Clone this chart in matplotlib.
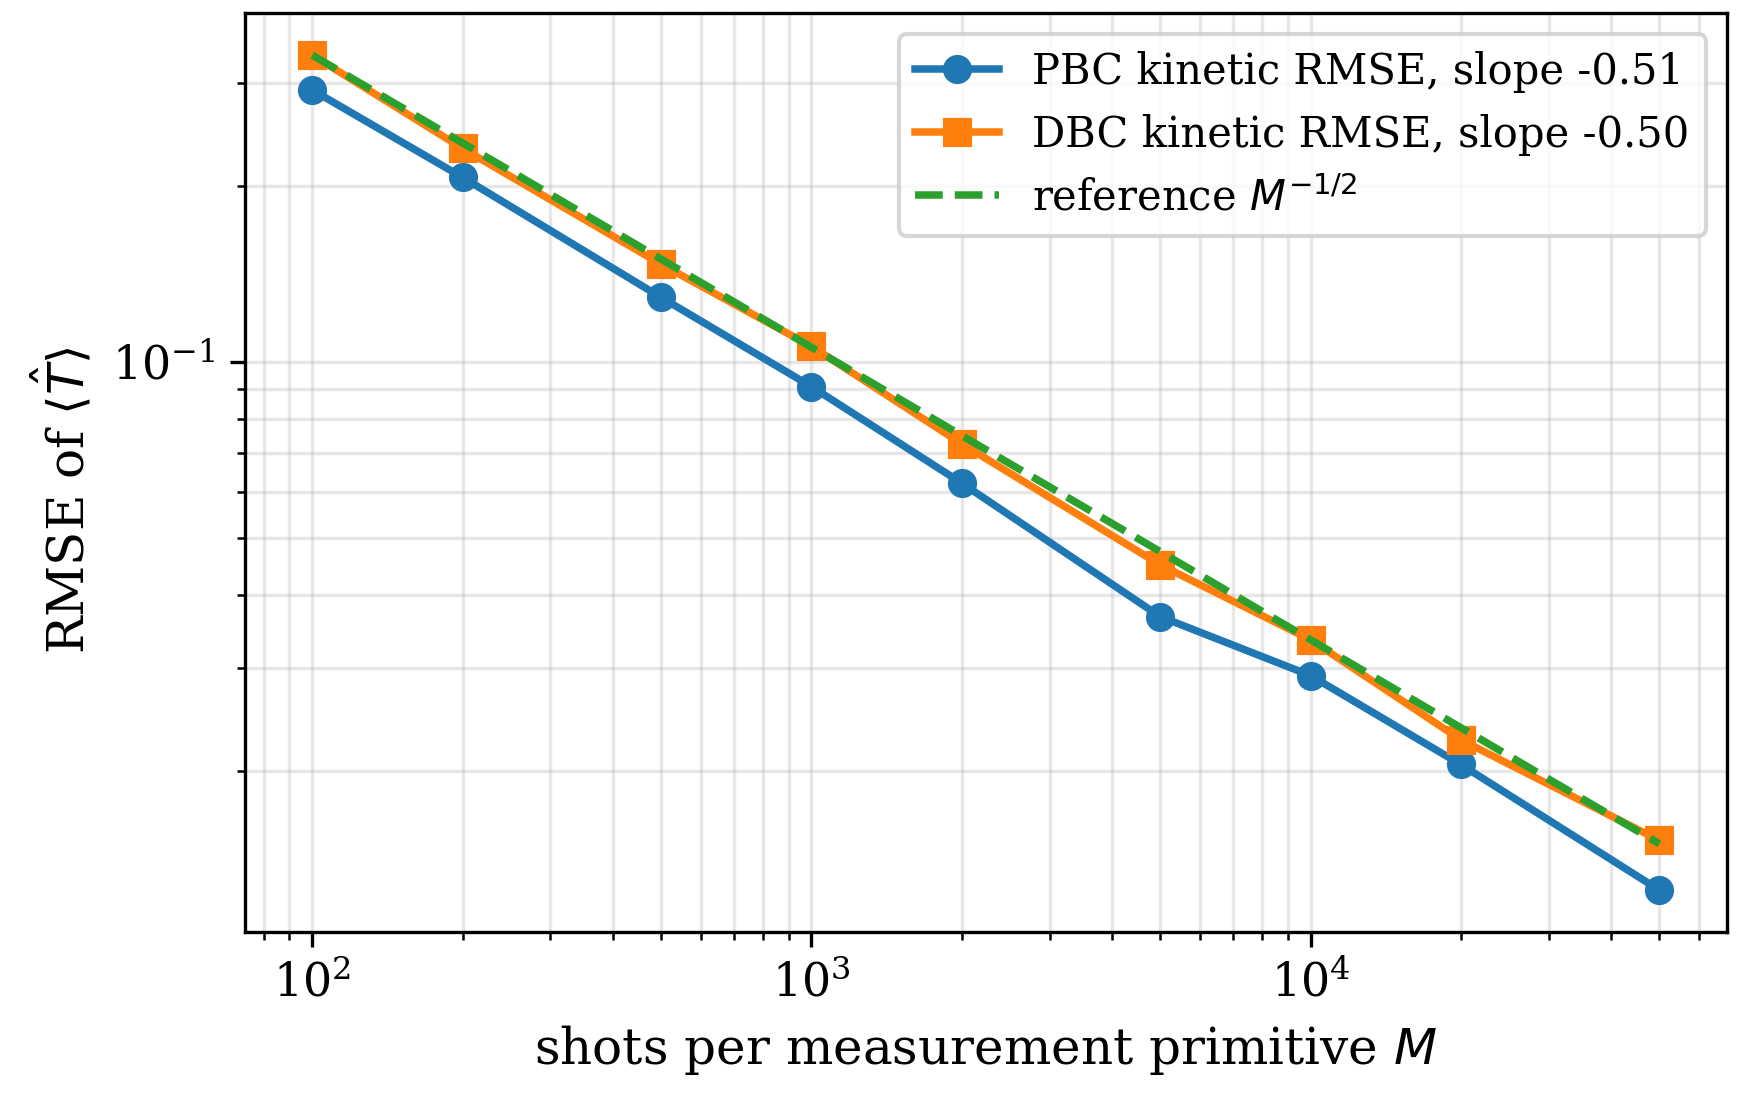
import matplotlib
matplotlib.use("Agg")
import matplotlib.pyplot as plt

plt.rcParams['font.family'] = ['DejaVu Serif']

# 1測定あたりのショット数
shots = [100, 200, 500, 1000, 2000, 5000, 10000, 20000, 50000]
# 運動エネルギーのRMSE
pbc_rmse = [0.292, 0.207, 0.129, 0.0908, 0.0621, 0.0367, 0.0291, 0.0205, 0.0125]
dbc_rmse = [0.335, 0.232, 0.147, 0.1064, 0.0725, 0.0450, 0.0335, 0.0226, 0.0152]
# 参照線 M^-1/2
ref_rmse = [0.335, 0.237, 0.150, 0.106, 0.0749, 0.0474, 0.0335, 0.0237, 0.0150]

fig = plt.figure(figsize=(1762 / 300, 1112 / 300), dpi=300)
ax = fig.add_subplot(1, 1, 1)
fig.subplots_adjust(left=0.139, right=0.980, top=0.988, bottom=0.162)

ax.loglog(shots, pbc_rmse, marker='o', color='#1f77b4', lw=1.8, markersize=6,
          label='PBC kinetic RMSE, slope -0.51')
ax.loglog(shots, dbc_rmse, marker='s', color='#ff7f0e', lw=1.8, markersize=6,
          label='DBC kinetic RMSE, slope -0.50')
ax.loglog(shots, ref_rmse, '--', color='#2ca02c', lw=1.8,
          label=r'reference $M^{-1/2}$')

ax.grid(True, which='both', alpha=0.3)
ax.set_xlabel(r'shots per measurement primitive $M$', fontsize=12)
ax.set_ylabel(r'RMSE of $\langle \hat{T} \rangle$', fontsize=12, y=0.47)
ax.tick_params(labelsize=11)
ax.legend(loc='upper right', fontsize=10)

plt.savefig("out.png", dpi=300)
